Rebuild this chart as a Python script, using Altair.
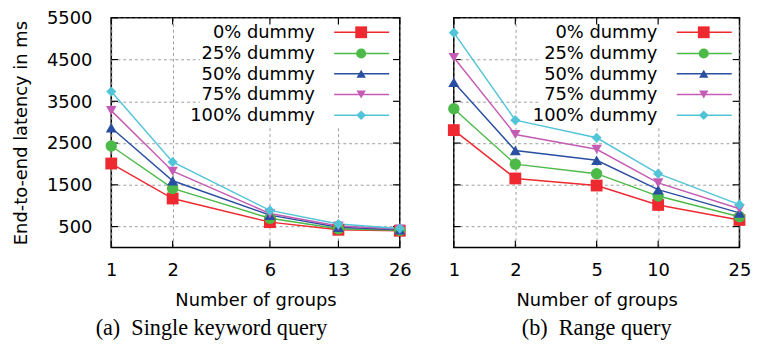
import altair as alt
import pandas as pd

series = ["0% dummy", "25% dummy", "50% dummy", "75% dummy", "100% dummy"]
colors = ["#ee2a30", "#4cba48", "#2a4fa2", "#c45cb4", "#52c4d8"]
shapes = ["square", "circle", "triangle-up", "triangle-down", "diamond"]
sizes = [150, 110, 95, 95, 100]

y_ticks = [500, 1500, 2500, 3500, 4500, 5500]

# (a) Single keyword query
left_x = [1, 2, 6, 13, 26]
left_vals = {
    "0% dummy":   [2010, 1172, 606, 423, 400],
    "25% dummy":  [2430, 1414, 698, 446, 412],
    "50% dummy":  [2865, 1597, 774, 485, 425],
    "75% dummy":  [3277, 1826, 812, 515, 440],
    "100% dummy": [3735, 2048, 888, 560, 455],
}

# (b) Range query
right_x = [1, 2, 5, 10, 25]
right_vals = {
    "0% dummy":   [2810, 1652, 1483, 1018, 659],
    "25% dummy":  [3322, 1995, 1767, 1231, 737],
    "50% dummy":  [3954, 2323, 2087, 1384, 828],
    "75% dummy":  [4549, 2705, 2352, 1545, 927],
    "100% dummy": [5144, 3048, 2627, 1767, 1025],
}

FONT = "DejaVu Sans"
FS = 18.5
W_L, W_R, H = 299, 296, 238
LEG_ROWS = [15, 37, 58, 79.5, 101]


def panel(xs, vals, w, h, show_y, caption, title_frame, lx):
    rows = []
    for s in series:
        for xv, yv in zip(xs, vals[s]):
            rows.append({"x": xv, "y": yv, "series": s})
    df = pd.DataFrame(rows)

    xscale = alt.Scale(type="log", domain=[xs[0], xs[-1]], nice=False, padding=0)
    yscale = alt.Scale(domain=[0, 5500], nice=False, zero=False, padding=0)
    xaxis = alt.Axis(values=xs, format="d", title="Number of groups",
                     labelPadding=14, titlePadding=13, labelFlush=False,
                     labelOverlap=False, grid=True)
    if show_y:
        yaxis = alt.Axis(values=y_ticks, format="d", title="End-to-end latency in ms",
                         labelPadding=20, titlePadding=17, labelOverlap=False,
                         labelFlush=False, grid=True)
    else:
        yaxis = alt.Axis(values=y_ticks, labels=False, title=None, grid=True,
                         minExtent=0, maxExtent=0, labelFlush=False)

    color = alt.Color("series:N", scale=alt.Scale(domain=series, range=colors), legend=None)
    shape = alt.Shape("series:N", scale=alt.Scale(domain=series, range=shapes), legend=None)
    size = alt.Size("series:N", scale=alt.Scale(domain=series, range=sizes), legend=None)

    base = alt.Chart(df)
    lines = base.mark_line(strokeWidth=1.5).encode(
        x=alt.X("x:Q", scale=xscale, axis=xaxis),
        y=alt.Y("y:Q", scale=yscale, axis=yaxis),
        color=color,
        order="x:Q",
    )
    points = base.mark_point(filled=True, opacity=1).encode(
        x=alt.X("x:Q", scale=xscale), y=alt.Y("y:Q", scale=yscale),
        color=color, shape=shape, size=size
    )

    # inward tick marks on all four sides
    ydf = pd.DataFrame({"y": y_ticks})
    xdf = pd.DataFrame({"x": xs})
    tk = dict(color="black", strokeWidth=1.2)
    t_left = alt.Chart(ydf).mark_rule(**tk).encode(
        y=alt.Y("y:Q", scale=yscale), x=alt.value(0), x2=alt.value(7))
    t_right = alt.Chart(ydf).mark_rule(**tk).encode(
        y=alt.Y("y:Q", scale=yscale), x=alt.value(w - 7), x2=alt.value(w))
    t_bot = alt.Chart(xdf).mark_rule(**tk).encode(
        x=alt.X("x:Q", scale=xscale), y=alt.value(h - 7), y2=alt.value(h))
    t_top = alt.Chart(xdf).mark_rule(**tk).encode(
        x=alt.X("x:Q", scale=xscale), y=alt.value(0), y2=alt.value(7))

    one = pd.DataFrame({"a": [0]})
    leg_bg = alt.Chart(one).mark_rect(fill="white", stroke=None).encode(
        x=alt.value(w - 207), x2=alt.value(w - 1), y=alt.value(2), y2=alt.value(112)
    )

    layers = [leg_bg, t_left, t_right, t_bot, t_top, lines, points]
    for s, c, sh, sz, ry in zip(series, colors, shapes, sizes, LEG_ROWS):
        ldf = pd.DataFrame({"label": [s]})
        layers.append(alt.Chart(ldf).mark_text(align="right", baseline="middle", font=FONT,
                                               fontSize=FS, color="black").encode(
            x=alt.value(w - 88 + lx), y=alt.value(ry), text="label:N"))
        layers.append(alt.Chart(ldf).mark_rule(color=c, strokeWidth=1.5).encode(
            x=alt.value(w - 68 + lx), x2=alt.value(w - 11 + lx), y=alt.value(ry)))
        layers.append(alt.Chart(ldf).mark_point(filled=True, opacity=1, shape=sh, size=sz,
                                                color=c).encode(
            x=alt.value(w - 40 + lx), y=alt.value(ry)))

    return alt.layer(*layers).properties(
        width=w, height=h,
        title=alt.TitleParams(caption, orient="bottom", font="Liberation Serif",
                              fontSize=23, fontWeight="normal", color="black",
                              anchor="middle", offset=9, frame=title_frame),
    )


left = panel(left_x, left_vals, W_L, H, True, "(a)\u00a0 Single keyword query", "bounds", 0)
right = panel(right_x, right_vals, W_R, H, False, "(b)\u00a0 Range query", "group", 3)

chart = alt.hconcat(left, right, spacing=36).configure(
    padding={"left": 3, "top": -6, "right": 0, "bottom": 0},
    font=FONT,
).configure_view(
    stroke="black", strokeWidth=1.6
).configure_axis(
    labelFont=FONT, labelFontSize=FS, labelColor="black",
    titleFont=FONT, titleFontSize=FS, titleFontWeight="normal", titleColor="black",
    domain=False, ticks=False,
    gridColor="#9a9a9a", gridDash=[3, 3], gridWidth=1, gridOpacity=1,
)

chart.save("out.html", embed_options={"renderer": "svg", "actions": False})
